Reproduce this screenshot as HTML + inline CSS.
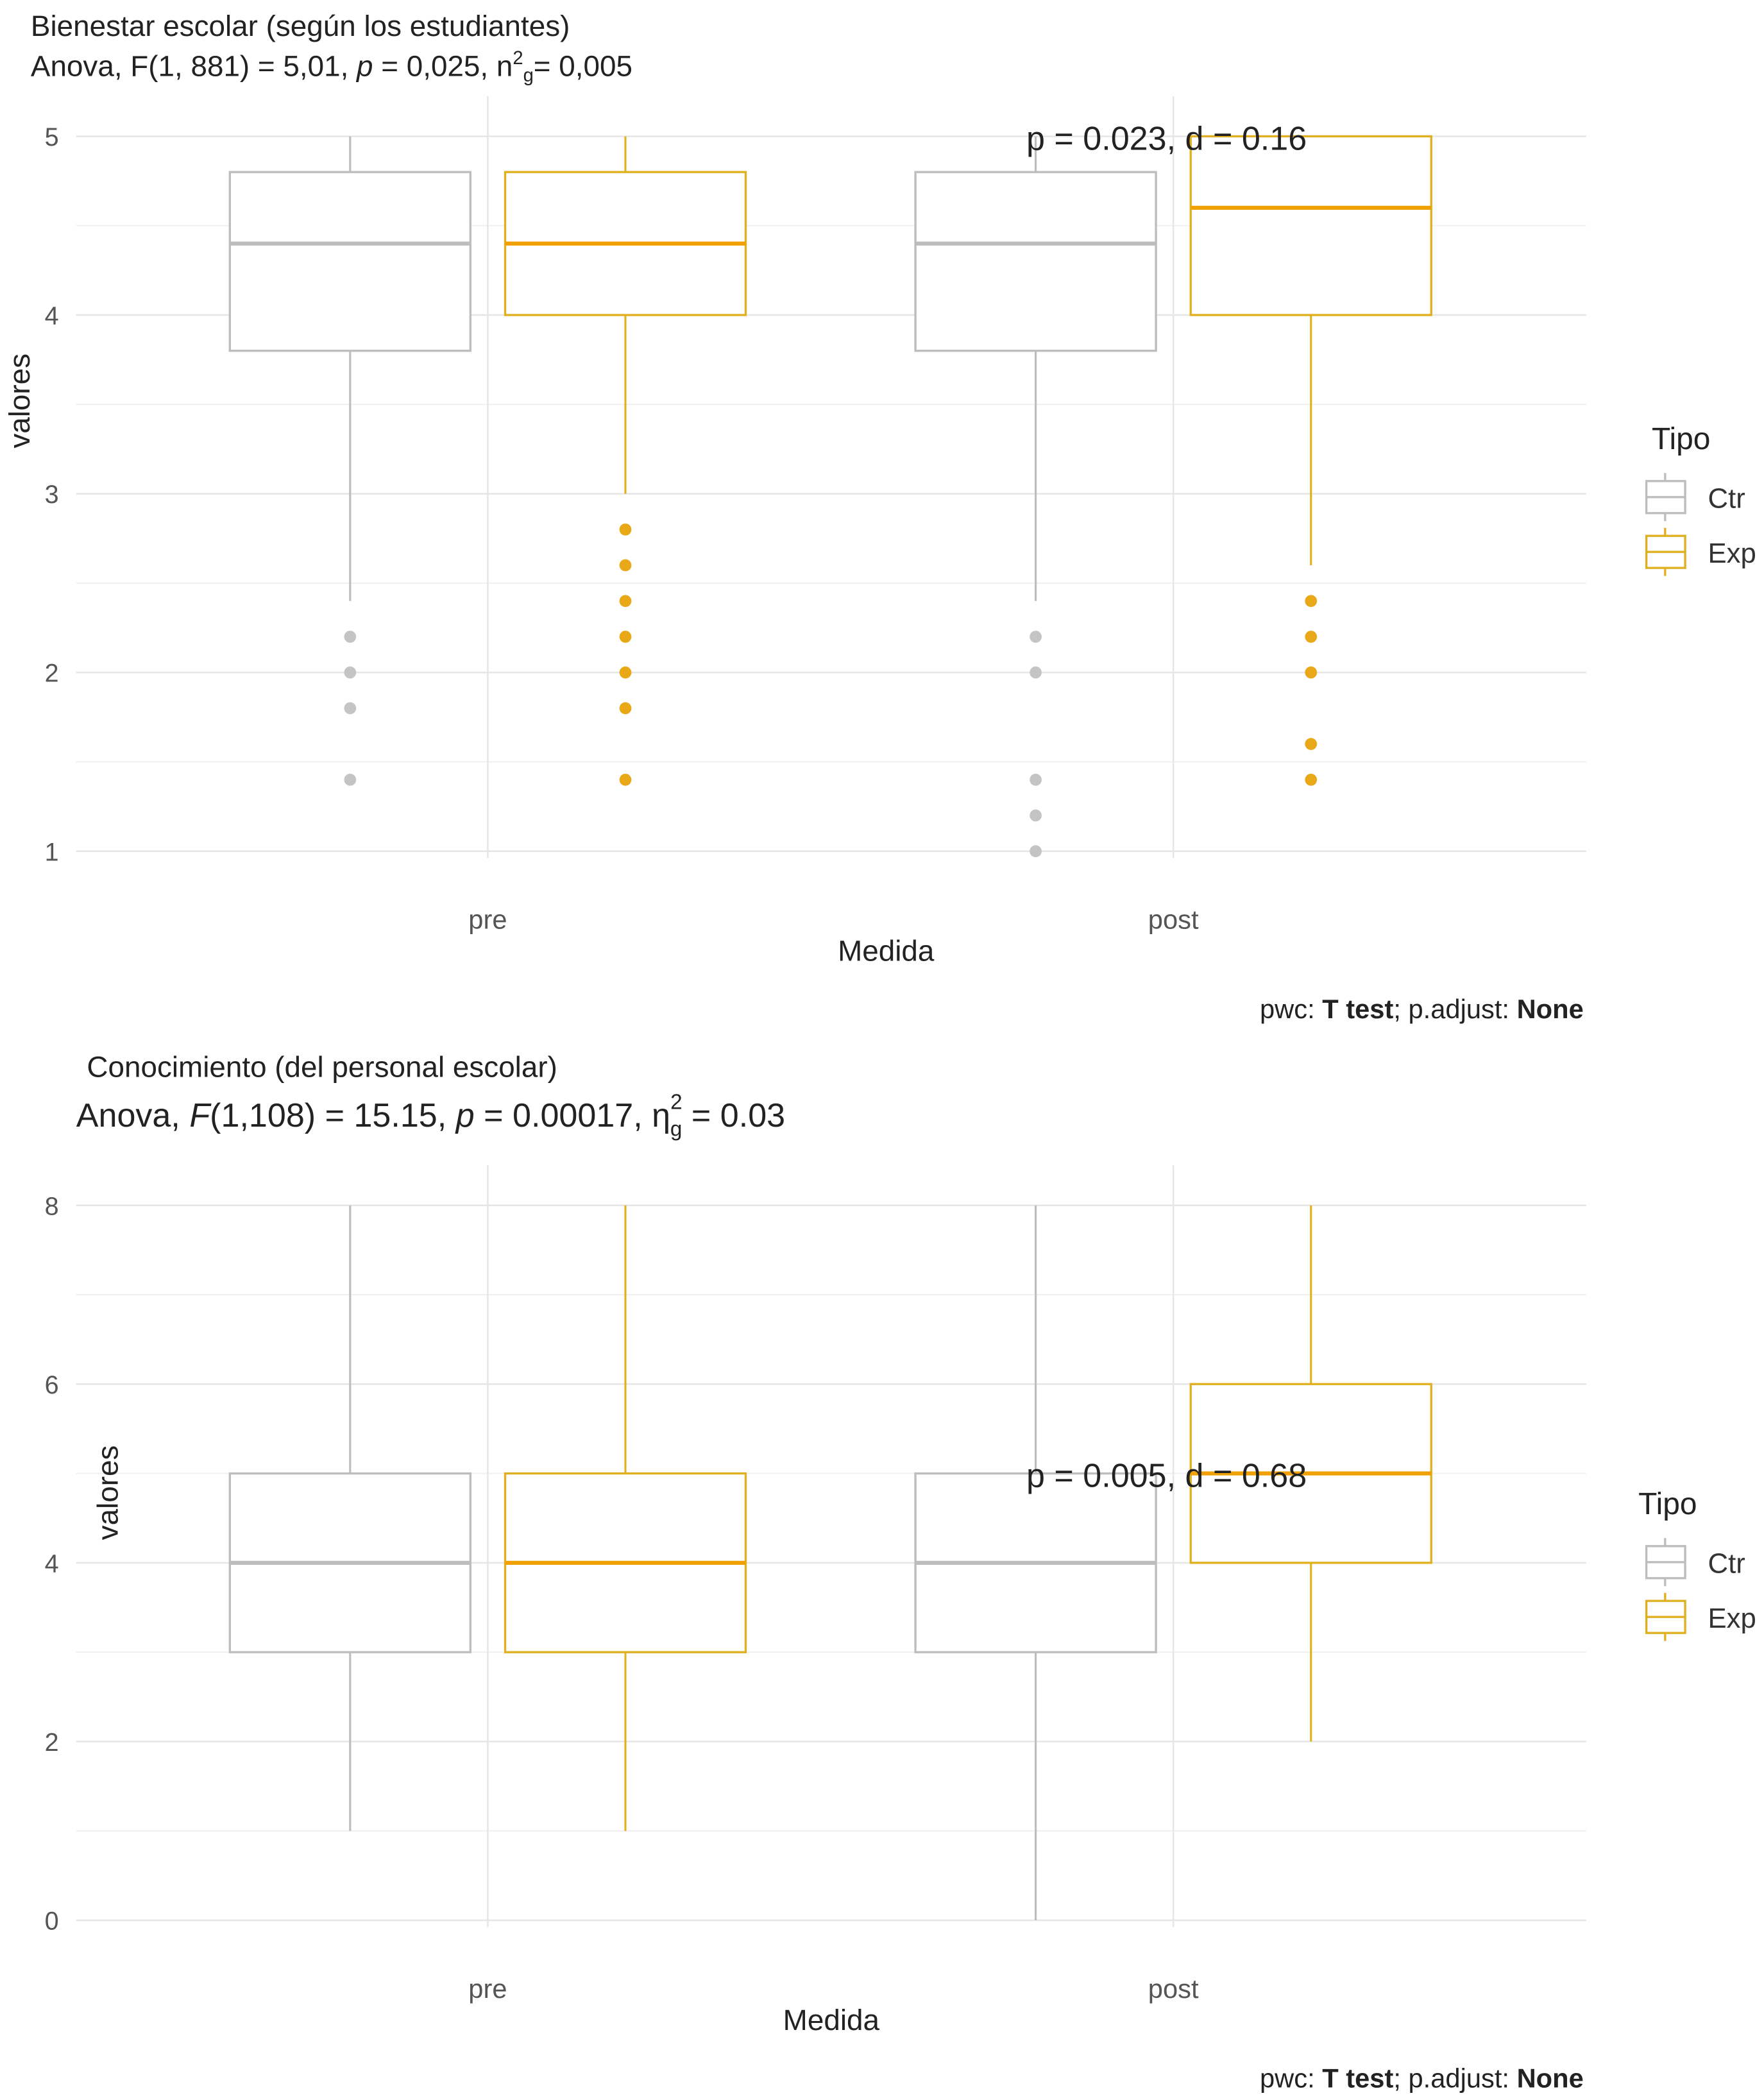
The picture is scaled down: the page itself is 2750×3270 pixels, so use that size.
<!DOCTYPE html>
<html><head><meta charset="utf-8">
<style>
html,body{margin:0;padding:0;background:#fff;}
svg{display:block;font-family:"Liberation Sans",sans-serif;}
</style></head>
<body>
<svg id="chart" width="2750" height="3270" viewBox="0 0 1320 1570" preserveAspectRatio="none" xmlns="http://www.w3.org/2000/svg">
<g id="p1"></g>
<g id="p2"></g>
</svg>
<script>
const groups = ["Ctr-pre","Exp-pre","Ctr-post","Exp-post"];
const tipos = ["Ctr","Exp","Ctr","Exp"];
const categories = ["pre","post"];
// panel 1 stats: [lowWhisker, q1, median, q3, highWhisker]
const stats1 = [[2.4,3.8,4.4,4.8,5],[3.0,4.0,4.4,4.8,5],[2.4,3.8,4.4,4.8,5],[2.6,4.0,4.6,5.0,5]];
const outliers1 = [[2.2,2.0,1.8,1.4],[2.8,2.6,2.4,2.2,2.0,1.8,1.4],[2.2,2.0,1.4,1.2,1.0],[2.4,2.2,2.0,1.6,1.4]];
const ticks1 = [1,2,3,4,5];
const stats2 = [[1,3,4,5,8],[1,3,4,5,8],[0,3,4,5,8],[2,4,5,6,8]];
const outliers2 = [[],[],[],[]];
const ticks2 = [0,2,4,6,8];

const NS="http://www.w3.org/2000/svg";
const col={Ctr:"#bdbdbd",Exp:"#e0b020"};
const dotCol={Ctr:"#c4c4c4",Exp:"#e8a817"};
function el(parent,tag,attrs,text){const e=document.createElementNS(NS,tag);for(const k in attrs)e.setAttribute(k,attrs[k]);if(text!==undefined)e.textContent=text;parent.appendChild(e);return e;}

function panel(g,stats,outs,ticks,yTop,yBot,vMin,vMax,opts){
  const x0=57,x1=1187;
  const y=v=>yBot-(v-vMin)/(vMax-vMin)*(yBot-yTop);
  const catX=[365,878], off=103, bw=180;
  const bx=i=>catX[Math.floor(i/2)]+(i%2===0?-off:off);
  const step=ticks[1]-ticks[0];
  for(let k=0;k<ticks.length-1;k++){const m=ticks[k]+step/2;const l=el(g,"line",{x1:x0,x2:x1,y1:y(m),y2:y(m),stroke:"#f0f0f0","stroke-width":1});
    
    }
  ticks.forEach(t=>{const l=el(g,"line",{x1:x0,x2:x1,y1:y(t),y2:y(t),stroke:"#e6e6e6","stroke-width":1.2});
    
    
    const tx=el(g,"text",{x:44,y:y(t)+7,"text-anchor":"end","font-size":19,fill:"#555"},t);
    
    });
  catX.forEach((cx,i)=>{const l=el(g,"line",{x1:cx,x2:cx,y1:yTop-30,y2:yBot+5,stroke:"#e6e6e6","stroke-width":1.2});
    
    
    const tx=el(g,"text",{x:cx,y:yBot+58,"text-anchor":"middle","font-size":20,fill:"#555"},categories[i]);
    
    });
  stats.forEach((s,i)=>{
    const c=col[tipos[i]],cx=bx(i);
    const w=el(g,"line",{x1:cx,x2:cx,y1:y(s[0]),y2:y(s[4]),stroke:c,"stroke-width":1.5});
    
    
    const r=el(g,"rect",{x:cx-bw/2,y:y(s[3]),width:bw,height:y(s[1])-y(s[3]),fill:"#fff",stroke:c,"stroke-width":1.6});
    
    
    const m=el(g,"line",{x1:cx-bw/2,x2:cx+bw/2,y1:y(s[2]),y2:y(s[2]),stroke:tipos[i]==="Exp"?"#f0a000":"#bdbdbd","stroke-width":3});
    
    
    outs[i].forEach(o=>{const d=el(g,"circle",{cx:cx,cy:y(o),r:4.5,fill:dotCol[tipos[i]]});
      
      });
  });
  const xt=el(g,"text",{x:opts.xtX,y:yBot+82,"text-anchor":"middle","font-size":22,fill:"#222"},"Medida");
  
  
  const yt=el(g,"text",{x:0,y:0,"font-size":22,fill:"#222","text-anchor":"middle",transform:`translate(${opts.ytX},${opts.ytY}) rotate(-90)`},"valores");
  
  
  const an=el(g,"text",{x:768,y:y(opts.annV)+10,"font-size":25,fill:"#222"},opts.ann);
  
  
  const lg=el(g,"g",{});
  
  
  el(lg,"text",{x:opts.lgX,y:opts.lgY,"font-size":23,fill:"#222"},"Tipo");
  ["Ctr","Exp"].forEach((t,k)=>{const yy=opts.lgY+36+k*41;
    const e=el(lg,"g",{});
    
    
    el(e,"rect",{x:1232,y:yy-12,width:29,height:24,fill:"#fff",stroke:col[t],"stroke-width":1.6});
    el(e,"line",{x1:1232,x2:1261,y1:yy,y2:yy,stroke:col[t],"stroke-width":1.6});
    el(e,"line",{x1:1246,x2:1246,y1:yy-18,y2:yy-12,stroke:col[t],"stroke-width":1.6});
    el(e,"line",{x1:1246,x2:1246,y1:yy+12,y2:yy+18,stroke:col[t],"stroke-width":1.6});
    el(e,"text",{x:1278,y:yy+8,"font-size":21,fill:"#333"},t);});
  const cap=el(g,"text",{x:1185,y:yBot+125,"text-anchor":"end","font-size":20,fill:"#222"});
  
  
  cap.innerHTML='pwc: <tspan font-weight="bold">T test</tspan>; p.adjust: <tspan font-weight="bold">None</tspan>';
}
const g1=document.getElementById("p1"),g2=document.getElementById("p2");
panel(g1,stats1,outliers1,ticks1,102,637,1,5,{xtX:663,ytX:22,ytY:300,ann:"p = 0.023, d = 0.16",annV:5,lgX:1236,lgY:336});
panel(g2,stats2,outliers2,ticks2,902,1437,0,8,{xtX:622,ytX:88,ytY:1117,ann:"p = 0.005, d = 0.68",annV:5,lgX:1226,lgY:1133});
let t=el(g1,"text",{x:23,y:27,"font-size":22,fill:"#222"},"Bienestar escolar (según los estudiantes)");


t=el(g1,"text",{x:23,y:57,"font-size":22,fill:"#222"});
t.innerHTML='Anova, F(1, 881) = 5,01, <tspan font-style="italic">p</tspan> = 0,025, n<tspan font-size="14" dy="-9">2</tspan><tspan font-size="14" dy="13">g</tspan><tspan dy="-4">= 0,005</tspan>';


t=el(g2,"text",{x:65,y:806,"font-size":22,fill:"#222"},"Conocimiento (del personal escolar)");


t=el(g2,"text",{x:57,y:843,"font-size":25,fill:"#222"});
t.innerHTML='Anova, <tspan font-style="italic">F</tspan>(1,108) = 15.15, <tspan font-style="italic">p</tspan> = 0.00017, η<tspan font-size="16" dy="-13">2</tspan><tspan font-size="16" dx="-9" dy="20">g</tspan><tspan dy="-7"> = 0.03</tspan>';


</script>
</body></html>
